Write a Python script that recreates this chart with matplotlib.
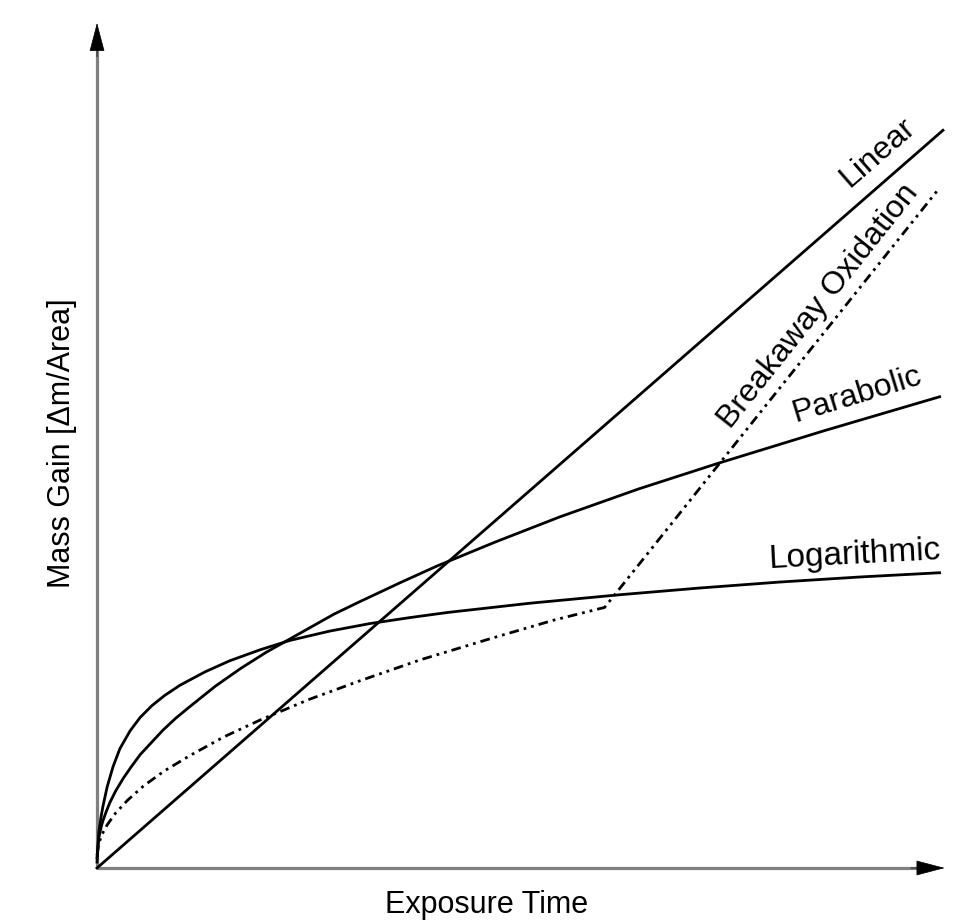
"""Oxidation kinetics sketch: mass gain vs exposure time (linear, parabolic,
logarithmic, breakaway). Values read off the reference drawing."""

import matplotlib
matplotlib.use("Agg")
import matplotlib.pyplot as plt

plt.rcParams["font.family"] = ["Liberation Sans", "DejaVu Sans"]

# curves, in arbitrary units (time, mass gain)
linear_t = [0.0, 10.0]
linear_m = [0.0, 8.72]

parabolic_t = [0.0, 0.02, 0.05, 0.07, 0.11, 0.15, 0.22, 0.31, 0.40, 0.51,
               0.64, 0.78, 0.93, 1.10, 1.40, 1.70, 2.00, 2.32, 2.80, 3.11,
               3.60, 4.02, 4.70, 5.47, 6.40, 7.33, 8.60, 9.96]
parabolic_m = [0.12, 0.35, 0.49, 0.56, 0.67, 0.77, 0.91, 1.06, 1.19, 1.34,
               1.48, 1.63, 1.77, 1.91, 2.15, 2.36, 2.55, 2.73, 3.00, 3.15,
               3.38, 3.57, 3.85, 4.15, 4.48, 4.78, 5.17, 5.57]

log_t = [0.0, 0.02, 0.05, 0.07, 0.12, 0.19, 0.27, 0.39, 0.51, 0.65, 0.80,
         0.98, 1.28, 1.57, 1.93, 2.28, 2.75, 3.23, 3.70, 4.14, 5.12, 6.18,
         7.13, 8.07, 9.02, 9.96]
log_m = [0.07, 0.42, 0.62, 0.73, 0.96, 1.20, 1.41, 1.62, 1.78, 1.92, 2.04,
         2.16, 2.32, 2.45, 2.58, 2.69, 2.80, 2.89, 2.96, 3.02, 3.13, 3.23,
         3.31, 3.38, 3.44, 3.49]

breakaway_t = [0.0, 0.02, 0.06, 0.12, 0.22, 0.36, 0.55, 0.80, 1.10, 1.50,
               1.93, 2.50, 3.10, 3.82, 4.68, 5.40, 6.00, 9.96]
breakaway_m = [0.15, 0.29, 0.40, 0.51, 0.65, 0.80, 0.97, 1.15, 1.33, 1.55,
               1.75, 1.99, 2.21, 2.46, 2.72, 2.93, 3.08, 8.04]

X_END = 10.02
Y_END = 9.99

fig = plt.figure(figsize=(9.72, 9.24), dpi=100)
ax = fig.add_axes([0, 0, 1, 1])
ax.set_xlim(-1.147, 10.343)
ax.set_ylim(-0.662, 10.260)
ax.set_axis_off()

# axes with arrow heads
axis_col = "#808080"
ax.plot([0, X_END - 0.3], [0, 0], color=axis_col, lw=2.3, solid_capstyle="butt")
ax.plot([0, 0], [0, Y_END - 0.3], color=axis_col, lw=2.3, solid_capstyle="butt")
head = dict(arrowstyle="-|>,head_length=1.9,head_width=0.5", color="black",
            lw=0.5, shrinkA=0, shrinkB=0)
ax.annotate("", xy=(X_END, 0), xytext=(X_END - 0.4, 0), arrowprops=head)
ax.annotate("", xy=(0, Y_END), xytext=(0, Y_END - 0.4), arrowprops=head)

lw = 2.0
ax.plot(linear_t, linear_m, color="black", lw=lw)
ax.plot(parabolic_t, parabolic_m, color="black", lw=lw)
ax.plot(log_t, log_m, color="black", lw=lw)
ax.plot(breakaway_t, breakaway_m, color="black", lw=lw,
        linestyle=(0, (3.5, 1.8, 1.0, 1.8, 1.0, 1.8)))

lab = dict(fontsize=23, ha="center", va="center", rotation_mode="anchor")
ax.text(9.23, 8.46, "Linear", rotation=41, **lab)
ax.text(8.53, 6.64, "Breakaway Oxidation", rotation=51.5, **lab)
ax.text(8.98, 5.59, "Parabolic", rotation=17, **lab)
lab["fontsize"] = 24
ax.text(8.95, 3.70, "Logarithmic", rotation=3, **lab)

ax.text(4.60, -0.44, "Exposure Time", fontsize=22, ha="center", va="center")
ax.text(-0.41, 5.02, "Mass Gain [\u0394m/Area]", fontsize=22, rotation=90,
        ha="center", va="center")

fig.savefig("out.png", dpi=100)
